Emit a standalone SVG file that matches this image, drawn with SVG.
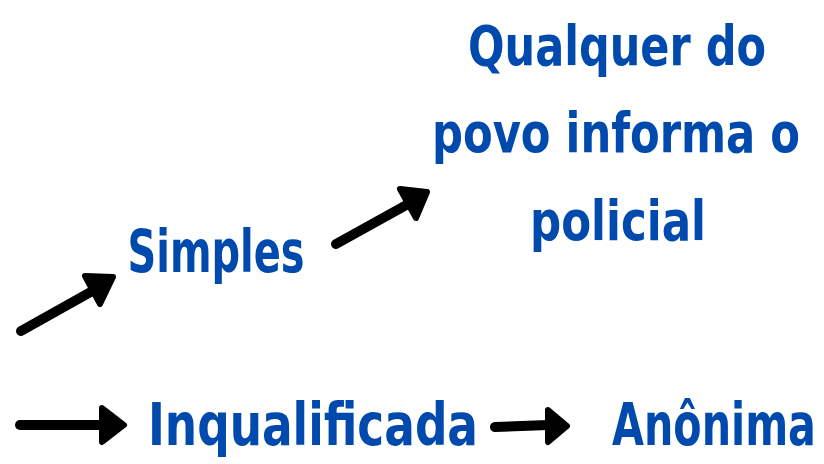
<svg xmlns="http://www.w3.org/2000/svg" width="824" height="464" viewBox="0 0 824 464">
<style>
.t{font-family:"DejaVu Sans Condensed","Liberation Sans Narrow","Open Sans",sans-serif;font-weight:bold;fill:#004aad;}
.c{text-anchor:middle;}
.ln{stroke:#000;stroke-width:10;stroke-linecap:round;fill:none;}
.hd{fill:#000;stroke:#000;stroke-width:6;stroke-linejoin:round;}
</style>
<rect width="824" height="464" fill="#fff"/>
<g id="connectors">
<g id="a1"><line class="ln" x1="21" y1="331" x2="96" y2="289"/><polygon class="hd" points="85,276 113,277 100,304"/></g>
<g id="a2"><line class="ln" x1="336" y1="244" x2="410" y2="203"/><polygon class="hd" points="400,189 427,192 416,218"/></g>
<g id="a3"><line class="ln" x1="20" y1="425" x2="102" y2="425"/><polygon class="hd" points="102,408 124,425 102,442"/></g>
<g id="a4"><line class="ln" x1="495" y1="427" x2="548" y2="425"/><polygon class="hd" points="548,410 567,426 548,442"/></g>
</g>
<g id="n-qualquer">
<text class="t c" x="617" y="65" font-size="56" textLength="298" lengthAdjust="spacingAndGlyphs">Qualquer do</text>
<text class="t c" transform="translate(616,152) scale(0.86,1)" x="0" y="0" font-size="56" textLength="428" lengthAdjust="spacingAndGlyphs">povo informa o</text>
<text class="t c" x="618" y="240" font-size="56" textLength="176" lengthAdjust="spacingAndGlyphs">policial</text>
</g>
<g id="n-simples"><text class="t c" x="216" y="272" font-size="58" textLength="177" lengthAdjust="spacingAndGlyphs">Simples</text></g>
<g id="n-inqualificada"><text class="t c" x="313" y="445" font-size="58" textLength="330" lengthAdjust="spacingAndGlyphs">Inqualificada</text></g>
<g id="n-anonima"><text class="t c" transform="translate(714,445) scale(0.79,1)" x="0" y="0" font-size="58" textLength="258" lengthAdjust="spacingAndGlyphs">Anônima</text></g>
</svg>
